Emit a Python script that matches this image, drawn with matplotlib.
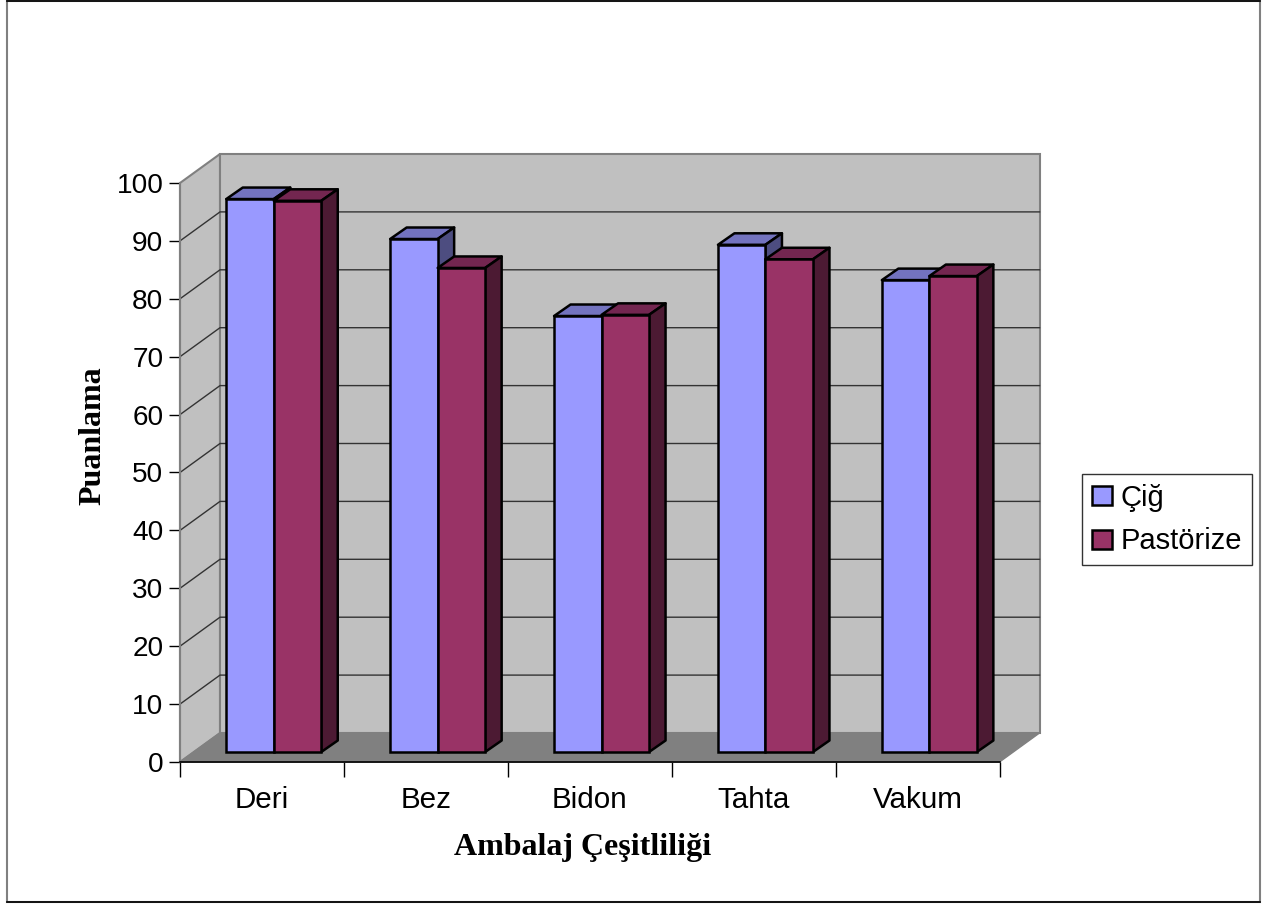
import numpy as np
import matplotlib
matplotlib.use('Agg')
import matplotlib.pyplot as plt
from matplotlib.lines import Line2D
from matplotlib.patches import Polygon, Patch, Rectangle

categories = ['Deri', 'Bez', 'Bidon', 'Tahta', 'Vakum']
cig = [95.5, 88.6, 75.3, 87.6, 81.5]
pastorize = [95.2, 83.6, 75.5, 85.1, 82.2]
yticks = list(range(0, 101, 10))

W, H = 1277, 906
# front plane of the fake 3d box, in pixels
left, right, bottom, top = 180, 999.5, 762, 183

plt.rcParams['font.family'] = ['Liberation Sans', 'DejaVu Sans']

fig = plt.figure(figsize=(W / 100, H / 100), dpi=100)
ax = fig.add_axes([left / W, 1 - bottom / H, (right - left) / W, (bottom - top) / H])
ax.set_xlim(0, len(categories))
ax.set_ylim(0, 100)
ax.patch.set_visible(False)

px = len(categories) / (right - left)
py = 100 / (bottom - top)

# box depth
wx, wy = 40 * px, 29 * py
# bar placement
bw = 47.5 * px
bx, by = 16.5 * px, 11.5 * py
fx, fy = 11.8 * px, 10 * py

n = len(categories)
side = Polygon([(0, 0), (wx, wy), (wx, 100 + wy), (0, 100)], fc='#C0C0C0', ec='#808080', lw=1.5, zorder=1)
back = Polygon([(wx, wy), (n + wx, wy), (n + wx, 100 + wy), (wx, 100 + wy)], fc='#C0C0C0', ec='#808080', lw=1.5, zorder=1)
floor = Polygon([(0, 0), (n, 0), (n + wx, wy), (wx, wy)], fc='#808080', ec='#808080', lw=1, zorder=2)
for p in (side, back, floor):
    p.set_clip_on(False)
    ax.add_patch(p)

for t in yticks[1:-1]:
    ax.plot([0, wx, n + wx], [t, t + wy, t + wy], color='#333333', lw=1, zorder=2, clip_on=False)


def draw_bar(x, val, color, top_c, side_c, z):
    y0 = fy
    y1 = fy + val
    ax.bar(x, val, bw, bottom=y0, align='edge', color=color, edgecolor='black', lw=1.8, zorder=z + 0.2, clip_on=False)
    t = Polygon([(x, y1), (x + bw, y1), (x + bw + bx, y1 + by), (x + bx, y1 + by)],
                fc=top_c, ec='black', lw=1.8, zorder=z, clip_on=False, joinstyle='round')
    s = Polygon([(x + bw, y0), (x + bw + bx, y0 + by), (x + bw + bx, y1 + by), (x + bw, y1)],
                fc=side_c, ec='black', lw=1.8, zorder=z, clip_on=False, joinstyle='round')
    ax.add_patch(t)
    ax.add_patch(s)


for i in range(n):
    x0 = i + 0.5 + fx - bw
    draw_bar(x0, cig[i], '#9999FF', '#7373BF', '#4D4D80', 3 + i)
    draw_bar(x0 + bw, pastorize[i], '#993366', '#732650', '#4C1A33', 3.5 + i)

for sp in ('top', 'right'):
    ax.spines[sp].set_visible(False)
ax.spines['left'].set_color('#808080')
ax.spines['left'].set_linewidth(1.5)
ax.spines['left'].set_zorder(2.5)
ax.spines['bottom'].set_color('black')
ax.spines['bottom'].set_linewidth(1.2)
ax.spines['bottom'].set_zorder(2.5)

ax.set_yticks(yticks)
ax.set_xticks(np.arange(n + 1))
ax.set_xticklabels([])
ax.set_xticks(np.arange(n) + 0.5, categories, minor=True)
ax.tick_params(axis='y', length=8, width=1, pad=4, labelsize=20.2)
ax.tick_params(axis='x', which='major', length=11, width=1)
ax.tick_params(axis='x', which='minor', length=0, pad=17, labelsize=21.3)

serif = ['Liberation Serif', 'DejaVu Serif']
ax.set_xlabel('Ambalaj Çeşitliliği', family=serif, fontsize=23, fontweight='bold', va='center')
ax.xaxis.set_label_coords((583 - left) / (right - left), -(848 - bottom) / (bottom - top))
ax.set_ylabel('Puanlama', family=serif, fontsize=23, fontweight='bold', va='center')
ax.yaxis.set_label_coords((93 - left) / (right - left), (bottom - 436) / (bottom - top))

handles = [Patch(fc='#9999FF', ec='black', lw=1.8, label='Çiğ'),
           Patch(fc='#993366', ec='black', lw=1.8, label='Pastörize')]
leg = fig.legend(handles=handles, loc='upper left', bbox_to_anchor=(1082 / W, 1 - 474 / H),
                 fontsize=21, frameon=True, fancybox=False, framealpha=1, edgecolor='#333333',
                 borderaxespad=0, borderpad=0.34, handlelength=0.68, handleheight=0.62,
                 handletextpad=0.3, labelspacing=0.53)
leg.get_frame().set_linewidth(1)

# outer chart frame, sides come out grey and top/bottom black
fig.add_artist(Rectangle((7 / W, 1 - 902 / H), 1253 / W, 901 / H, transform=fig.transFigure,
                         fc='none', ec='#808080', lw=1.5))
for yp in (1, 902):
    fig.add_artist(Line2D([7 / W, 1260 / W], [1 - yp / H, 1 - yp / H], transform=fig.transFigure,
                          color='black', lw=1.2))

fig.savefig('out.png', dpi=100)
